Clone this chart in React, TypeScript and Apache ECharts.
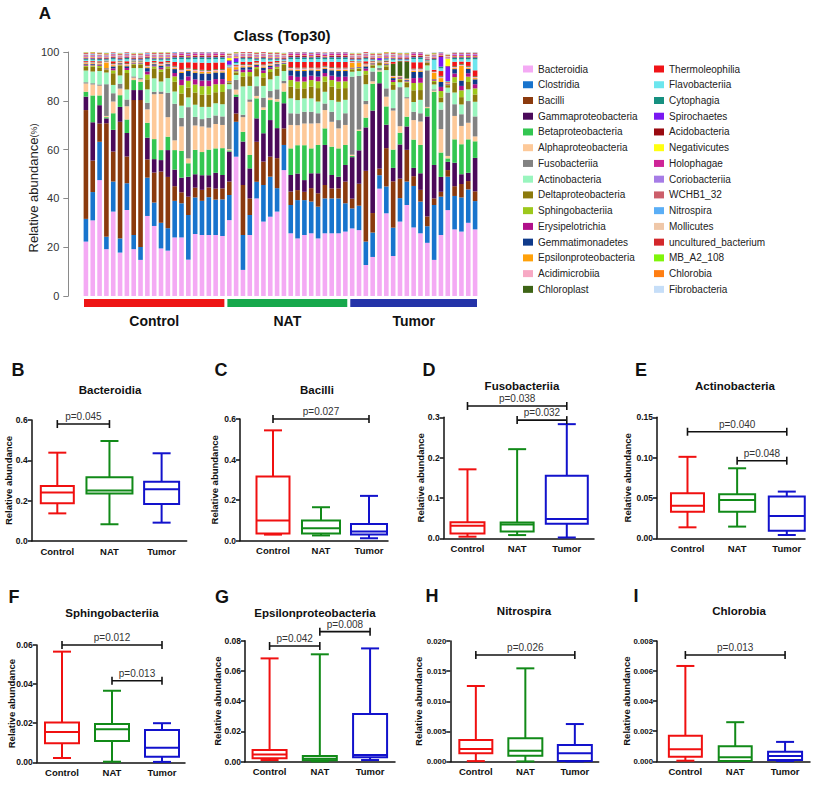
import React, { useEffect, useRef } from "react";
import * as echarts from "echarts";

const FONT = '"Liberation Sans", Arial, Helvetica, sans-serif';

// ---------- Panel A data ----------
const samples = [
  "C01","C02","C03","C04","C05","C06","C07","C08","C09","C10","C11","C12","C13","C14","C15","C16","C17","C18","C19","C20","C21",
  "N01","N02","N03","N04","N05","N06","N07","N08","N09","N10","N11","N12","N13","N14","N15","N16","N17","N18",
  "T01","T02","T03","T04","T05","T06","T07","T08","T09","T10","T11","T12","T13","T14","T15","T16","T17","T18","T19",
];
const groups = ["Control", "NAT", "Tumor"];
const groupSizes = [21, 18, 19];

const bacteroidia = [22.3,31,47.5,19.2,34.6,17.8,35.2,19.2,14.8,32.8,28.7,19.5,18.6,24,24,14.9,25.4,25,25,25,24.6, 31.1,57.1,10.7,25,40,30.5,32.5,34.6,51.6,25.7,23.6,25,25.7,23.6,25.7,25.7,25.7,26.4, 27.7,27,12.7,16,44,33.9,16.4,30.5,37.3,28.1,25.7,21.8,14.8,25,35.2,27.3,26.4,30,27.3];
const clostridia = [9.3,11.6,15.7,5.1,12.3,5.8,11,5.8,5.3,15.7,9.6,10.5,9.2,15,14,18.3,15,14,15.5,14.5,15, 10.3,14.3,14.3,8.2,6.8,15,16.4,9.6,10.3,11.6,15.7,14.3,13,13,14.3,14.3,14.3,11.6, 8.2,10,9.6,10,5.5,11,11.6,9.6,9.6,17,13,6.8,22.5,15.7,13.7,13.7,14,13.7,11.6];
const bacilli = [44.6,12.9,7.5,46.5,12.3,47.8,11,55.3,60.2,7.5,12.3,21,21,6,4.5,7.5,4,4.5,4,4.5,4.5, 5.5,3.4,20.5,6.8,16.4,9.6,8.2,12.3,6.8,5.5,4.1,3.4,5.5,5.5,5.5,4.1,4.1,8.9, 4,9,29,8,2.7,15.7,19,8,13,4,4.8,4,2.7,2,2.7,4,5.5,3.4,4];
const gammaproteobacteria = [5.5,15.7,7.5,2,8.9,6.1,9.6,4.1,4.1,8.9,5.5,4.7,11,6.8,6,8.2,5.5,6,5,6.5,5.5, 12.3,6.8,17.8,12.3,9.6,11.6,15,12.3,10.3,6.8,6.8,4.8,6.1,8.2,16.4,5.5,4.8,6.8, 17,13.7,17.8,42,35,9.6,5.5,14,9.6,3.4,6.8,41,13.7,6.1,3.4,9.6,4,3.4,13.7];
const betaproteobacteria = [2,11,4,0.5,6.8,4.8,5.5,4.1,3.4,6.1,8.2,4.1,5.5,8,11,5.5,10,9.5,10.5,10,11, 0.5,1,4,5.5,8.2,9.6,8.2,10.9,4.8,10.9,11.6,14.3,10.2,11.6,6.8,11.6,11.6,8.2, 0.5,8,4,11,4.8,7.5,7.5,4.8,4,11.6,11.6,3.4,30,10,1.4,9.6,12.3,13.7,6.8];
const alphaproteobacteria = [3.4,4.5,4,0.5,4.8,2.7,5.5,1,1,5.5,18.4,23,8,4,10,2,10,10.5,9,10,9.5, 0.5,2,6,21.8,1,1,1,1,3.4,9.6,8.2,8.9,10.2,8.9,7.5,10.2,8.2,8.2, 0.5,0.5,5.5,1,0.5,4,16,2.7,7.5,8,9.6,0.5,0.5,9.6,1,9.6,7.5,6.8,2];
const fusobacteriia = [0.5,0.5,0.5,13,3.4,2,2.7,0.5,0.5,2.7,1,1,10,15,3.5,21,3.5,3,4,3.5,3.5, 24.6,4,1,1,4,4,2.7,4,1,4.8,4.8,4.8,4.8,4.1,2.7,4.1,3.4,4.8, 32,22,1.4,4,1,3.4,1,16,0.5,3.4,3.4,15,0.5,8,26,4.8,4.8,8.9,8.2];
const actinobacteria = [4.8,4.8,5.5,4.8,3.4,3.4,4.1,3.4,4.1,5.5,5.5,4.1,6,5,5,4,5,5,4.5,5,5, 2,2,11.6,5.5,4,4.8,4.8,5.5,4,6.1,5.5,5.5,5.5,4.8,4.8,4.8,7.5,5.5, 2,2,6.8,1.5,1,7.5,7.5,2,4,4,5.5,2,2,3,2,4.8,4,4.8,6];
const deltaproteobacteria = [1.5,2,1.5,1,4.8,4.1,6.8,1.5,1.5,4.1,4.1,4,4,4,5,4,5,5,5,4.5,5, 0.5,1,4,4,3,3.5,3,3,2.5,4.8,4.8,4.1,4.8,5.5,4.1,5.5,5.5,4.8, 1,1,4,1,1,1.5,2,1,2,4.8,4,1,1,2,1,4.1,3,3,3];
const sphingobacteriia = [0.5,0.5,0.6,0.3,1.2,0.4,1.2,0.3,0.3,2,0.8,1,0.8,2.2,3.4,2.8,3.3,3.5,3.5,3.3,3.2, 0.3,0.5,1.8,1.7,0.8,1.8,1.2,0.8,0.4,2.7,2.8,2.8,2.7,2.8,2.2,2.7,2.8,2.8, 0.3,0.3,1.5,0.4,0.1,0.5,1.2,0.4,0.4,3,3,0.1,0.5,2.6,0.2,2.2,2.8,2.2,2.5];
const erysipelotrichia = [0.3,0.3,0.3,0.2,0.8,0.2,0.8,0.2,0.2,1.2,0.4,0.7,0.4,1.4,2.2,1.8,2.1,2.3,2.3,2.1,2.1, 0.2,0.4,1,1,0.5,1.1,0.7,0.5,0.2,1.8,1.9,1.9,1.8,1.9,1.4,1.8,1.9,1.9, 0.2,0.2,0.9,0.3,0.1,0.3,0.8,0.3,0.3,2,2,0.1,0.3,1.7,0.2,1.5,1.8,1.4,1.7];
const gemmatimonadetes = [0.3,0.3,0.3,0.2,0.8,0.3,0.8,0.2,0.2,1.4,0.5,0.8,0.5,1.6,2.8,2.2,2.7,2.9,2.9,2.7,2.7, 0.2,0.3,1,1,0.5,1.1,0.7,0.5,0.2,2.2,2.4,2.4,2.2,2.3,1.7,2.2,2.4,2.3, 0.2,0.2,0.9,0.2,0.1,0.3,0.8,0.3,0.3,2.5,2.5,0.1,0.3,2,0.2,1.8,2.2,1.8,2];
const epsilonproteobacteria = [0.4,0.3,0.4,2.4,0.5,0.3,0.4,0.2,0.2,0.4,0.3,0.3,0.3,0.4,0.6,0.5,0.6,0.6,0.6,0.5,0.5, 5.4,1,0.5,0.4,0.4,0.5,0.4,0.3,0.2,0.4,0.5,0.5,0.4,0.5,0.4,0.4,0.5,0.5, 2,1.6,0.4,0.3,0.2,0.3,0.5,0.3,0.3,0.5,0.5,0.2,2.7,1.6,0.2,0.4,6,0.4,0.5];
const acidimicrobiia = [0.4,0.4,0.3,0.4,0.5,0.3,0.5,0.3,0.3,0.5,0.4,0.4,0.4,0.6,0.6,0.5,0.6,0.6,0.5,0.6,0.6, 0.3,0.4,0.5,0.5,0.4,0.5,0.4,0.4,0.3,0.6,0.6,0.6,0.5,0.6,0.5,0.6,0.6,0.6, 0.3,0.3,0.5,0.3,0.2,0.4,0.4,0.3,0.3,0.6,0.6,0.2,0.3,0.6,0.2,0.5,0.5,0.5,0.5];
const chloroplast = [0.2,0.2,0.2,0.2,0.3,0.2,0.3,0.2,0.2,0.3,0.2,0.2,0.2,0.3,0.3,0.3,0.3,0.3,0.3,0.3,0.3, 0.1,0.2,0.3,0.3,0.2,0.3,0.2,0.2,0.2,0.3,0.3,0.3,0.3,0.3,0.3,0.3,0.3,0.3, 0.2,0.2,0.3,0.2,0.1,0.3,5,6,7,0.3,0.3,0.1,0.2,0.3,0.1,0.3,0.3,0.3,0.3];
const thermoleophilia = [0.3,0.3,0.4,0.2,0.8,0.2,0.8,0.2,0.2,1.4,0.4,0.8,0.4,1.6,2.8,2.3,2.7,2.9,2.9,2.7,2.7, 0.2,0.4,1,1,0.5,1.1,0.7,0.4,0.2,2.2,2.3,2.3,2.2,2.3,1.7,2.2,2.3,2.3, 0.2,0.2,0.9,0.2,0.1,0.3,0.8,0.2,0.3,2.6,2.5,0.1,0.7,2,0.2,1.8,1,1.7,2.4];
const flavobacteriia = [0.5,0.5,0.5,0.3,0.8,0.3,0.8,0.2,0.2,1,0.5,0.7,0.5,1.2,1.4,1.2,1.4,1.5,1.5,1.4,1.4, 0.5,0.7,1,1,0.5,1,0.7,0.5,0.3,1.1,1.2,1.2,1.1,1.2,1,1.1,1.2,1.2, 0.4,0.5,0.8,0.3,0.1,0.4,0.8,0.3,0.3,1.3,1.3,0.1,4,1.1,0.2,1,0.9,1,4.5];
const cytophagia = [0.4,0.4,0.4,0.3,0.5,0.3,0.5,0.3,0.3,0.5,0.4,0.4,0.4,0.6,0.7,0.6,0.7,0.7,0.7,0.7,0.7, 0.3,0.4,0.5,0.5,0.4,0.5,0.4,0.4,0.3,0.7,0.7,0.7,0.6,0.7,0.6,0.7,0.7,0.7, 0.3,0.3,0.5,0.3,0.2,0.4,0.4,0.3,0.3,0.7,0.7,0.2,0.4,0.7,0.2,0.6,0.6,0.6,0.6];
const spirochaetes = [0.2,0.2,0.2,0.2,0.2,0.2,0.2,0.2,0.2,0.2,0.2,0.2,0.2,0.2,0.2,0.2,0.2,0.2,0.2,0.2,0.2, 1.5,1.5,0.2,0.2,0.2,0.2,0.2,0.2,0.2,0.2,0.2,0.2,0.2,0.2,0.2,0.2,0.2,0.2, 0.2,0.2,0.2,0.2,0.8,0.2,0.2,0.2,0.2,0.2,0.2,0.2,0.2,4,6,0.2,0.2,0.2,0.2];
const acidobacteria = [0.3,0.3,0.3,0.3,0.3,0.3,0.3,0.3,0.3,0.3,0.3,0.3,0.3,0.4,0.4,0.4,0.4,0.4,0.4,0.4,0.4, 0.3,0.3,0.3,0.3,0.3,0.3,0.3,0.3,0.3,0.4,0.4,0.4,0.4,0.4,0.3,0.4,0.4,0.4, 0.3,0.3,0.3,0.3,0.2,0.3,0.3,0.3,0.3,0.4,0.4,0.2,0.3,0.4,0.2,0.4,0.4,0.4,0.4];
const negativicutes = [0.2,0.2,0.2,0.2,0.2,0.2,0.2,0.2,0.2,0.2,0.2,0.2,0.2,0.2,0.2,0.2,0.2,0.2,0.2,0.2,0.2, 1,0.4,0.2,0.2,0.2,0.2,0.2,0.2,0.2,0.2,0.2,0.2,0.2,0.2,0.2,0.2,0.2,0.2, 0.2,0.2,0.2,0.2,0.2,0.2,0.2,0.2,0.2,0.2,0.2,0.2,0.2,0.2,3,0.2,0.2,0.2,0.2];
const holophagae = [0.3,0.3,0.3,0.2,0.4,0.2,0.4,0.2,0.2,0.5,0.3,0.3,0.3,0.5,0.6,0.5,0.6,0.6,0.6,0.6,0.6, 0.2,0.3,0.4,0.4,0.3,0.4,0.3,0.3,0.2,0.6,0.6,0.6,0.5,0.6,0.5,0.6,0.6,0.6, 0.2,0.2,0.4,0.2,0.1,0.3,0.3,0.3,0.3,0.6,0.6,0.1,0.3,0.5,0.1,0.5,0.5,0.5,0.5];
const coriobacteriia = [0.3,0.3,0.3,0.3,0.3,0.3,0.3,0.3,0.3,0.3,0.3,0.3,0.3,0.3,0.3,0.3,0.3,0.3,0.3,0.3,0.3, 0.3,0.3,0.3,0.3,0.3,0.3,0.3,0.3,0.3,0.3,0.3,0.3,0.3,0.3,0.3,0.3,0.3,0.3, 0.3,0.3,0.3,0.3,0.2,0.3,0.3,0.3,0.3,0.3,0.3,0.3,0.3,0.3,0.3,0.3,0.3,0.3,0.3];
const wchb1_32 = [0.3,0.3,0.3,0.3,0.3,0.3,0.3,0.3,0.3,0.3,0.3,0.3,0.3,0.4,0.4,0.4,0.4,0.4,0.4,0.4,0.4, 0.3,0.3,0.3,0.3,0.3,0.3,0.3,0.3,0.3,0.4,0.4,0.4,0.4,0.4,0.3,0.4,0.4,0.4, 0.3,0.3,0.3,0.3,0.3,0.3,0.3,0.3,0.3,0.4,0.4,0.3,0.3,0.4,0.3,0.4,0.4,0.4,0.4];
const nitrospira = [0.2,0.3,0.2,0.1,0.3,0.1,0.3,0.1,0.1,0.3,0.2,0.2,0.2,0.3,0.3,0.3,0.3,0.3,0.3,0.3,0.3, 0.1,0.2,0.2,0.2,0.2,0.2,0.2,0.2,0.1,0.3,0.4,0.3,0.3,0.3,0.2,0.3,0.3,0.3, 0.1,0.1,0.2,0.1,0.1,0.2,0.2,0.1,0.1,0.2,0.2,0.1,0.1,0.2,0.1,0.2,0.2,0.2,0.2];
const mollicutes = [0.3,0.3,0.3,0.3,0.3,0.3,0.3,0.3,0.3,0.3,0.3,0.3,0.3,0.3,0.3,0.3,0.3,0.3,0.3,0.3,0.3, 0.3,0.3,0.3,0.3,0.3,0.3,0.3,0.3,0.3,0.3,0.3,0.3,0.3,0.3,0.3,0.3,0.3,0.3, 0.3,0.3,0.3,0.3,0.3,0.3,0.3,0.3,0.3,0.3,0.3,0.3,0.3,0.3,0.3,0.3,0.3,0.3,0.3];
const unculturedBacterium = [0.3,0.3,0.3,0.3,0.3,0.3,0.3,0.3,0.3,0.3,0.3,0.3,0.3,0.3,0.3,0.3,0.3,0.3,0.3,0.3,0.3, 0.3,0.3,0.3,0.3,0.3,0.3,0.3,0.3,0.3,0.3,0.3,0.3,0.3,0.3,0.3,0.3,0.3,0.3, 0.3,0.3,0.3,0.3,0.3,0.3,0.3,0.3,0.3,0.3,0.3,0.3,0.3,0.3,0.3,0.3,0.3,0.3,0.3];
const mbA2108 = [0.2,0.2,0.2,0.2,0.2,0.2,0.2,0.2,0.2,0.2,0.2,0.2,0.2,0.2,0.2,0.2,0.2,0.2,0.2,0.2,0.2, 0.2,0.2,0.2,0.2,0.2,0.2,0.2,0.2,0.2,0.2,0.2,0.2,0.2,0.2,0.2,0.2,0.2,0.2, 0.2,0.2,0.2,0.2,0.2,0.2,0.2,0.2,0.2,0.2,0.2,0.2,0.2,0.2,0.2,0.2,0.2,0.2,0.2];
const chlorobia = [0.1,0.1,0.1,0.1,0.1,0.1,0.1,0.1,0.1,0.1,0.1,0.1,0.1,0.1,0.1,0.1,0.1,0.1,0.1,0.1,0.1, 0.1,0.1,0.1,0.1,0.1,0.1,0.1,0.1,0.1,0.1,0.1,0.1,0.1,0.1,0.1,0.1,0.1,0.1, 0.1,0.1,0.1,0.1,0.1,0.1,0.1,0.1,0.1,0.1,0.1,0.1,0.1,0.1,0.1,0.1,0.1,0.1,0.1];
const fibrobacteria = [0.3,0.3,0.3,0.3,0.3,0.3,0.3,0.3,0.3,0.3,0.3,0.3,0.3,0.3,0.3,0.3,0.3,0.3,0.3,0.3,0.3, 0.3,0.3,0.3,0.3,0.3,0.3,0.3,0.3,0.3,0.3,0.3,0.3,0.3,0.3,0.3,0.3,0.3,0.3, 0.3,0.3,0.3,0.3,0.3,0.3,0.3,0.3,0.3,0.3,0.3,0.3,0.3,0.3,0.3,0.3,0.3,0.3,0.3];

const classNames = [
  "Bacteroidia","Clostridia","Bacilli","Gammaproteobacteria","Betaproteobacteria","Alphaproteobacteria",
  "Fusobacteriia","Actinobacteria","Deltaproteobacteria","Sphingobacteriia","Erysipelotrichia","Gemmatimonadetes",
  "Epsilonproteobacteria","Acidimicrobiia","Chloroplast","Thermoleophilia","Flavobacteriia","Cytophagia",
  "Spirochaetes","Acidobacteria","Negativicutes","Holophagae","Coriobacteriia","WCHB1_32","Nitrospira",
  "Mollicutes","uncultured_bacterium","MB_A2_108","Chlorobia","Fibrobacteria",
];
const classValues = [
  bacteroidia, clostridia, bacilli, gammaproteobacteria, betaproteobacteria, alphaproteobacteria,
  fusobacteriia, actinobacteria, deltaproteobacteria, sphingobacteriia, erysipelotrichia, gemmatimonadetes,
  epsilonproteobacteria, acidimicrobiia, chloroplast, thermoleophilia, flavobacteriia, cytophagia,
  spirochaetes, acidobacteria, negativicutes, holophagae, coriobacteriia, wchb1_32, nitrospira,
  mollicutes, unculturedBacterium, mbA2108, chlorobia, fibrobacteria,
];
const classColors = [
  "#F4AAF4","#1874CD","#8B3A0E","#4B0A5A","#33C651","#FDC999",
  "#828282","#99F5BE","#8C7A0C","#9DC81C","#B0108A","#0F3A8A",
  "#FFA10A","#F7A9C4","#3D6416","#F01418","#6CE6EE","#169080",
  "#7A18F2","#990A10","#FFFF10","#CE2497","#A67CE6","#CC5E6A","#5AAEF6",
  "#EFC7A8","#D3272B","#7FF50A","#FF7E12","#C6DEF8",
];
const groupBarColors = ["#EE1515", "#16A84C", "#2433A8"];

// ---------- Box plot data: [min, Q1, median, Q3, max] for Control, NAT, Tumor ----------
const bacteroidiaBox = [[0.137,0.187,0.24,0.273,0.438],[0.083,0.236,0.25,0.316,0.496],[0.091,0.183,0.256,0.294,0.435]];
const bacilliBox = [[0.03,0.036,0.099,0.316,0.544],[0.026,0.036,0.061,0.099,0.165],[0.012,0.031,0.045,0.082,0.221]];
const fusobacteriiaBox = [[0.004,0.012,0.031,0.04,0.171],[0.008,0.017,0.034,0.039,0.221],[0.002,0.036,0.048,0.155,0.283]];
const actinobacteriaBox = [[0.0136,0.033,0.0405,0.0558,0.101],[0.0145,0.033,0.0475,0.0545,0.0868],[0.0041,0.0095,0.0277,0.0517,0.0579]];
const sphingobacteriiaBox = [[0.0022,0.0097,0.0155,0.0203,0.0566],[0.0003,0.0109,0.0169,0.0196,0.0366],[0.0002,0.0029,0.0075,0.0165,0.02]];
const epsilonBox = [[0.0011,0.0022,0.0048,0.0077,0.0683],[0.0002,0.0009,0.002,0.0037,0.071],[0.0011,0.0029,0.0044,0.0315,0.0749]];
const nitrospiraBox = [[0.0001,0.00138,0.0021,0.0036,0.01254],[0.00005,0.001,0.0018,0.0039,0.01547],[0.00005,0.0001,0.00138,0.00276,0.00624]];
const chlorobiaBox = [[0.00004,0.00031,0.0008,0.0017,0.00634],[0.00002,0.00002,0.00027,0.001,0.0026],[0.00002,0.00009,0.00035,0.00064,0.00129]];

// significance brackets: from group, to group, height (data units), label
const bacteroidiaP = [{ from: 0, to: 1, y: 0.58, text: "p=0.045" }];
const bacilliP = [{ from: 0, to: 2, y: 0.6, text: "p=0.027" }];
const fusobacteriiaP = [{ from: 0, to: 2, y: 0.328, text: "p=0.038" }, { from: 1, to: 2, y: 0.293, text: "p=0.032" }];
const actinobacteriaP = [{ from: 0, to: 2, y: 0.1321, text: "p=0.040" }, { from: 1, to: 2, y: 0.0962, text: "p=0.048" }];
const sphingobacteriiaP = [{ from: 0, to: 2, y: 0.06, text: "p=0.012" }, { from: 1, to: 2, y: 0.0417, text: "p=0.013" }];
const epsilonP = [{ from: 0, to: 1, y: 0.0765, text: "p=0.042" }, { from: 1, to: 2, y: 0.086, text: "p=0.008" }];
const nitrospiraP = [{ from: 0, to: 2, y: 0.01768, text: "p=0.026" }];
const chlorobiaP = [{ from: 0, to: 2, y: 0.00707, text: "p=0.013" }];

const boxColors = ["#F01010", "#118A18", "#1212CC"];

const panels: any[] = [
  { letter: "B", title: "Bacteroidia", data: bacteroidiaBox, p: bacteroidiaP, max: 0.6, step: 0.2, dec: 1,
    left: 31.7, right: 186.7, top: 420, bottom: 541, xMin: -0.491, xMax: 2.481, lx: 18, ly: 370, tx: 110, ty: 390, nx: 8, boxW: [33, 46, 35] },
  { letter: "C", title: "Bacilli", data: bacilliBox, p: bacilliP, max: 0.6, step: 0.2, dec: 1,
    left: 240, right: 388, top: 419, bottom: 540.7, xMin: -0.6875, xMax: 2.396, lx: 221, ly: 370, tx: 317, ty: 390, nx: 214, boxW: [33, 38, 36] },
  { letter: "D", title: "Fusobacteriia", data: fusobacteriiaBox, p: fusobacteriiaP, max: 0.3, step: 0.1, dec: 1,
    left: 443.7, right: 594, top: 417.3, bottom: 538.3, xMin: -0.479, xMax: 2.548, lx: 429, ly: 370, tx: 522, ty: 386, nx: 420, boxW: [34, 33, 42] },
  { letter: "E", title: "Actinobacteria", data: actinobacteriaBox, p: actinobacteriaP, max: 0.15, step: 0.05, dec: 2,
    left: 657, right: 805, top: 417.3, bottom: 538.3, xMin: -0.614, xMax: 2.367, lx: 641, ly: 370, tx: 735, ty: 386, nx: 627, boxW: [33, 36, 36] },
  { letter: "F", title: "Sphingobacteriia", data: sphingobacteriiaBox, p: sphingobacteriiaP, max: 0.06, step: 0.02, dec: 2,
    left: 36.7, right: 185, top: 645, bottom: 762.3, xMin: -0.506, xMax: 2.46, lx: 14, ly: 597, tx: 112, ty: 613, nx: 11, boxW: [34, 34, 34] },
  { letter: "G", title: "Epsilonproteobacteria", data: epsilonBox, p: epsilonP, max: 0.08, step: 0.02, dec: 2,
    left: 245, right: 395, top: 640.7, bottom: 761.7, xMin: -0.489, xMax: 2.496, lx: 222, ly: 597, tx: 315, ty: 613, nx: 217, boxW: [34, 34, 34] },
  { letter: "H", title: "Nitrospira", data: nitrospiraBox, p: nitrospiraP, max: 0.02, step: 0.005, dec: 3,
    left: 450.3, right: 598.7, top: 641, bottom: 761.7, xMin: -0.516, xMax: 2.482, lx: 432, ly: 596, tx: 524, ty: 611, nx: 418, boxW: [33, 34, 34] },
  { letter: "I", title: "Chlorobia", data: chlorobiaBox, p: chlorobiaP, max: 0.008, step: 0.002, dec: 3,
    left: 657, right: 810, top: 641, bottom: 761.3, xMin: -0.569, xMax: 2.5, lx: 636, ly: 596, tx: 739, ty: 611, nx: 626, boxW: [33, 33, 34] },
];

const TOP = { left: 82.5, top: 52, width: 396, height: 244, axisX: 68.3 };

function txt(text: string, x: number, y: number, size: number, weight: string, extra: any = {}) {
  return {
    type: "text", x, y, silent: true, ...extra,
    style: {
      text, fontSize: size, fontWeight: weight, fontFamily: FONT, fill: "#111",
      align: "center", verticalAlign: "middle", textAlign: "center", textVerticalAlign: "middle",
      ...(extra.style || {}),
    },
  };
}

function buildOption() {
  const grid: any[] = [{ left: TOP.left, top: TOP.top, width: TOP.width, height: TOP.height }];
  const xAxis: any[] = [{
    type: "category", gridIndex: 0, data: samples,
    axisLine: { show: false }, axisTick: { show: false }, axisLabel: { show: false },
  }];
  const yAxis: any[] = [{
    type: "value", gridIndex: 0, min: 0, max: 100, interval: 20, offset: TOP.left - TOP.axisX,
    axisLine: { show: true, lineStyle: { color: "#8a8a8a", width: 1 } },
    axisTick: { show: true, length: 5, lineStyle: { color: "#8a8a8a" } },
    axisLabel: { fontSize: 11, color: "#333", fontFamily: FONT, margin: 9 },
    splitLine: { show: false },
  }];
  const series: any[] = classNames.map((name, i) => ({
    name, type: "bar", stack: "total", data: classValues[i], barWidth: 4.6,
    xAxisIndex: 0, yAxisIndex: 0, itemStyle: { color: classColors[i] },
    emphasis: { disabled: true }, clip: true,
  }));

  const graphic: any[] = [
    txt("A", 45, 13, 17, "bold"),
    txt("Class (Top30)", 282, 35, 15, "bold"),
    {
      type: "text", x: 33.5, y: 188, rotation: Math.PI / 2, silent: true,
      style: {
        text: "{a|Relative abundance}{b|(%)}",
        rich: { a: { fontSize: 13, fontFamily: FONT, fill: "#222" }, b: { fontSize: 9, fontFamily: FONT, fill: "#222" } },
        align: "center", verticalAlign: "middle", textAlign: "center", textVerticalAlign: "middle",
      },
    },
  ];

  const catW = TOP.width / samples.length;
  let start = 0;
  groups.forEach((g, i) => {
    const x0 = TOP.left + start * catW + 1.5;
    const x1 = TOP.left + (start + groupSizes[i]) * catW - 1.5;
    graphic.push({ type: "rect", silent: true, shape: { x: x0, y: 299, width: x1 - x0, height: 8 }, style: { fill: groupBarColors[i] } });
    graphic.push(txt(g, (x0 + x1) / 2, 320.5, 14, "bold"));
    start += groupSizes[i];
  });

  panels.forEach((p, k) => {
    const gi = k + 1;
    grid.push({ left: p.left, top: p.top, width: p.right - p.left, height: p.bottom - p.top });
    xAxis.push({
      type: "value", gridIndex: gi, min: p.xMin, max: p.xMax, splitNumber: 3,
      axisLine: { show: true, onZero: false, lineStyle: { color: "#111", width: 1.5 } },
      axisTick: { show: false }, splitLine: { show: false },
      axisLabel: {
        fontSize: 9.5, fontWeight: "bold", color: "#111", fontFamily: FONT, margin: 5,
        formatter: (v: number) => {
          const r = Math.round(v);
          return Math.abs(v - r) < 1e-6 && r >= 0 && r < groups.length ? groups[r] : "";
        },
      },
    });
    yAxis.push({
      type: "value", gridIndex: gi, min: 0, max: p.max, interval: p.step,
      axisLine: { show: true, onZero: false, lineStyle: { color: "#111", width: 1.5 } },
      axisTick: { show: true, length: 4, lineStyle: { color: "#111", width: 1.5 } },
      splitLine: { show: false },
      axisLabel: {
        fontSize: p.dec >= 3 ? 7.8 : 8.5, fontWeight: "bold", color: "#111", fontFamily: FONT, margin: 4,
        formatter: (v: number) => v.toFixed(p.dec),
      },
    });
    series.push({
      type: "custom", xAxisIndex: gi, yAxisIndex: gi,
      data: p.data.map((d: number[], i: number) => [i, ...d]),
      encode: { x: 0, y: [1, 2, 3, 4, 5] },
      renderItem: (params: any, api: any) => {
        const ci = api.value(0);
        const cx = api.coord([ci, 0])[0];
        const yv = [1, 2, 3, 4, 5].map((d) => api.coord([ci, api.value(d)])[1]);
        const bw = p.boxW[ci];
        const hw = bw / 2;
        const cw = 9;
        const st = { stroke: boxColors[ci], lineWidth: 2, fill: "none" };
        return {
          type: "group",
          children: [
            { type: "rect", shape: { x: cx - hw, y: yv[3], width: bw, height: yv[1] - yv[3] }, style: st },
            { type: "line", shape: { x1: cx - hw, y1: yv[2], x2: cx + hw, y2: yv[2] }, style: st },
            { type: "line", shape: { x1: cx, y1: yv[3], x2: cx, y2: yv[4] }, style: st },
            { type: "line", shape: { x1: cx, y1: yv[1], x2: cx, y2: yv[0] }, style: st },
            { type: "line", shape: { x1: cx - cw, y1: yv[4], x2: cx + cw, y2: yv[4] }, style: st },
            { type: "line", shape: { x1: cx - cw, y1: yv[0], x2: cx + cw, y2: yv[0] }, style: st },
          ],
        };
      },
    });
    series.push({
      type: "custom", xAxisIndex: gi, yAxisIndex: gi,
      data: p.p.map((b: any) => [b.from, b.to, b.y]),
      encode: { x: [0, 1], y: 2 },
      renderItem: (params: any, api: any) => {
        const a = api.coord([api.value(0), api.value(2)]);
        const b = api.coord([api.value(1), api.value(2)]);
        const st = { stroke: "#111", lineWidth: 1.6 };
        return {
          type: "group",
          children: [
            { type: "line", shape: { x1: a[0], y1: a[1], x2: b[0], y2: b[1] }, style: st },
            { type: "line", shape: { x1: a[0], y1: a[1] - 4, x2: a[0], y2: a[1] + 4 }, style: st },
            { type: "line", shape: { x1: b[0], y1: b[1] - 4, x2: b[0], y2: b[1] + 4 }, style: st },
            {
              type: "text", x: (a[0] + b[0]) / 2, y: a[1] - 2.5,
              style: {
                text: p.p[params.dataIndex].text, fontSize: 10, fontFamily: FONT, fill: "#333",
                align: "center", verticalAlign: "bottom", textAlign: "center", textVerticalAlign: "bottom",
              },
            },
          ],
        };
      },
    });
    graphic.push(txt(p.letter, p.lx, p.ly, 18, "bold"));
    graphic.push(txt(p.title, p.tx, p.ty, 11.5, "bold"));
    graphic.push(txt("Relative abundance", p.nx, (p.top + p.bottom) / 2, 9.5, "bold", { rotation: Math.PI / 2 }));
  });

  const legendBase = {
    orient: "vertical", itemWidth: 10, itemHeight: 7, itemGap: 3.74, padding: 0, icon: "rect",
    selectedMode: false, top: 63,
    textStyle: { fontSize: 10, lineHeight: 12, color: "#222", fontFamily: FONT },
  };

  return {
    animation: false,
    backgroundColor: "#fff",
    textStyle: { fontFamily: FONT },
    grid, xAxis, yAxis, series, graphic,
    legend: [
      { ...legendBase, left: 523, data: classNames.slice(0, 15) },
      { ...legendBase, left: 654, data: classNames.slice(15) },
    ],
  };
}

export default function App() {
  const ref = useRef<HTMLDivElement>(null);
  useEffect(() => {
    const chart = echarts.init(ref.current as HTMLDivElement, null, { renderer: "svg" });
    chart.setOption(buildOption() as any);
    return () => chart.dispose();
  }, []);
  return (
    <div
      ref={ref}
      style={{ position: "absolute", left: 0, top: 0, width: 824, height: 785, background: "#fff" }}
    />
  );
}
